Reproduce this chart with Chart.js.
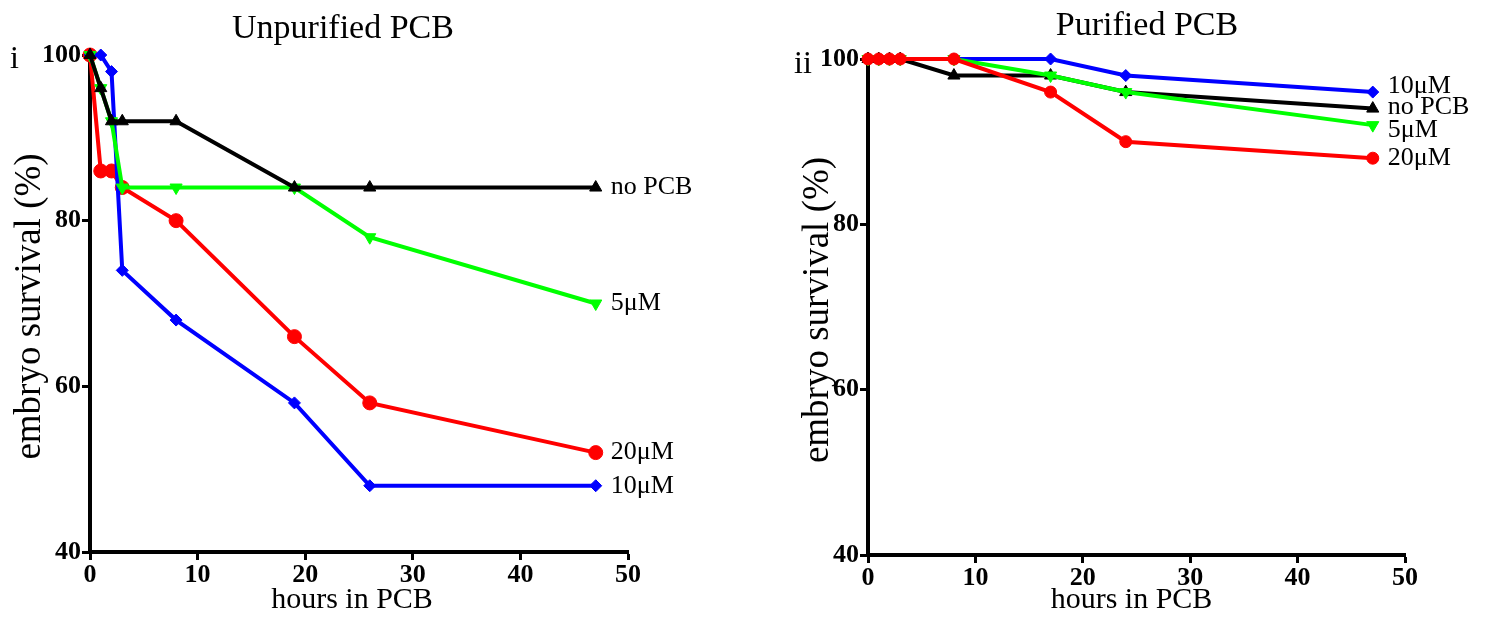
<!DOCTYPE html>
<html>
<head>
<meta charset="utf-8">
<script src="https://cdn.jsdelivr.net/npm/chart.js@4.4.1/dist/chart.umd.min.js"></script>
<style>
html,body{margin:0;padding:0;background:#fff;width:1491px;height:617px;overflow:hidden;}
.box{position:absolute;top:0;height:617px;}
</style>
</head>
<body>
<div class="box" style="left:0;width:745px;"><canvas id="c1" width="745" height="617"></canvas></div>
<div class="box" style="left:745px;width:746px;"><canvas id="c2" width="746" height="617"></canvas></div>
<script>
// ---- Panel i : Unpurified PCB ----
const hoursA = [0, 1, 2, 3, 8, 19, 26, 47];
const noPcbA = [100, 96, 92, 92, 92, 84, 84, 84];
const fiveA = [100, 96, 92, 84, 84, 84, 78, 70];
const twentyA = [100, 86, 86, 84, 80, 66, 58, 52];
const tenA = [100, 100, 98, 74, 68, 58, 48, 48];

// ---- Panel ii : Purified PCB ----
const hoursB = [0, 1, 2, 3, 8, 17, 24, 47];
const tenB = [100, 100, 100, 100, 100, 100, 98, 96];
const noPcbB = [100, 100, 100, 100, 98, 98, 96, 94];
const fiveB = [100, 100, 100, 100, 100, 98, 96, 92];
const twentyB = [100, 100, 100, 100, 100, 96, 90, 88];

const yTicks = [40, 60, 80, 100];
const xTicks = [0, 10, 20, 30, 40, 50];
const seriesNames = ["no PCB", "5μM", "20μM", "10μM"];
// label anchor values (y) at end of lines
const labelAtA = [84, 70, 52, 48];
const labelAtB = [94.2, 91.4, 88, 96.7];

const SERIF = "'Liberation Serif','DejaVu Serif',serif";

function pts(xs, ys){ return xs.map((x,i)=>({x:x, y:ys[i]})); }

function ds(label, xs, ys, color, style, rot, radius, order){
  return {label, data: pts(xs, ys), borderColor: color, backgroundColor: color,
    borderWidth: 4, pointStyle: style, rotation: rot, pointRadius: radius,
    pointBorderWidth: 1, pointBorderColor: color, pointHoverRadius: radius,
    clip: false, tension: 0, order};
}

const textPlugin = {
  id: 'texts',
  afterDraw(chart, args, opts){
    const ctx = chart.ctx;
    const xs = chart.scales.x, ys = chart.scales.y;
    ctx.save();
    ctx.fillStyle = '#000';
    // title
    ctx.font = `${opts.titleSize}px ${SERIF}`;
    ctx.textAlign = 'center'; ctx.textBaseline = 'alphabetic';
    ctx.fillText(opts.title, opts.titleX, opts.titleY);
    // panel label
    ctx.textBaseline = 'middle';
    ctx.font = `32px ${SERIF}`;
    ctx.textAlign = 'left';
    ctx.fillText(opts.panel, opts.panelX, opts.panelY);
    // x title
    ctx.font = `30px ${SERIF}`;
    ctx.textAlign = 'center';
    ctx.fillText('hours in PCB', (xs.left + xs.right)/2 + opts.xtShift, opts.xtY);
    // y title
    ctx.save();
    ctx.translate(opts.ytX, (ys.top + ys.bottom)/2 + 3);
    ctx.rotate(-Math.PI/2);
    ctx.font = `37px ${SERIF}`;
    ctx.fillText('embryo survival (%)', 0, 0);
    ctx.restore();
    // end labels
    ctx.font = `26px ${SERIF}`;
    ctx.textAlign = 'left';
    opts.labels.forEach((t, i)=>{
      ctx.fillText(t, xs.getPixelForValue(opts.endX) + 15, ys.getPixelForValue(opts.labelAt[i]));
    });
    ctx.restore();
  }
};

function makeChart(id, datasets, yw, xh, pad, textOpts){
  return new Chart(document.getElementById(id), {
    type: 'line',
    data: { datasets },
    plugins: [textPlugin],
    options: {
      responsive: false, animation: false,
      layout: { padding: pad },
      plugins: { legend: {display:false}, tooltip:{enabled:false}, texts: textOpts },
      scales: {
        x: {
          type: 'linear', min: 0, max: 50,
          afterBuildTicks: s => { s.ticks = xTicks.map(v=>({value:v})); },
          afterFit: s => { s.height = xh; },
          border: {display: true, color: '#000', width: 4},
          grid: {display: true, drawOnChartArea: false, drawTicks: true, tickLength: 8, tickWidth: 3, tickColor: '#000'},
          ticks: {color:'#000', padding: 0, maxRotation: 0, font: {family: SERIF, size: 26, weight: 'bold'}}
        },
        y: {
          type: 'linear', min: 40, max: 100,
          afterBuildTicks: s => { s.ticks = yTicks.map(v=>({value:v})); },
          afterFit: s => { s.width = yw; },
          border: {display: true, color: '#000', width: 4},
          grid: {display: true, drawOnChartArea: false, drawTicks: true, tickLength: 8, tickWidth: 3, tickColor: '#000'},
          ticks: {color:'#000', padding: 1, font: {family: SERIF, size: 26, weight: 'bold'}}
        }
      }
    }
  });
}

makeChart('c1', [
  ds(seriesNames[0], hoursA, noPcbA, '#000000', 'triangle', 0, 7, 0),
  ds(seriesNames[1], hoursA, fiveA, '#00ff00', 'triangle', 180, 7, 1),
  ds(seriesNames[3], hoursA, tenA, '#0000ff', 'rectRot', 0, 6, 2),
  ds(seriesNames[2], hoursA, twentyA, '#ff0000', 'circle', 0, 7, 3)
], 90, 65, {top: 55, right: 117, left: 0, bottom: 0}, {
  title: 'Unpurified PCB', titleX: 343, titleY: 38, titleSize: 34,
  panel: 'i', panelX: 10, panelY: 60,
  xtShift: -7, xtY: 600, ytX: 30,
  labels: seriesNames, labelAt: labelAtA, endX: 47
});

makeChart('c2', [
  ds(seriesNames[2], hoursB, twentyB, '#ff0000', 'circle', 0, 6, 0),
  ds(seriesNames[1], hoursB, fiveB, '#00ff00', 'triangle', 180, 7, 1),
  ds(seriesNames[0], hoursB, noPcbB, '#000000', 'triangle', 0, 7, 2),
  ds(seriesNames[3], hoursB, tenB, '#0000ff', 'rectRot', 0, 6, 3)
], 123, 62, {top: 59, right: 86, left: 0, bottom: 0}, {
  title: 'Purified PCB', titleX: 1147-745, titleY: 35, titleSize: 34,
  panel: 'ii', panelX: 49, panelY: 65,
  xtShift: -5, xtY: 600, ytX: 818-745,
  labels: seriesNames, labelAt: labelAtB, endX: 47
});
</script>
</body>
</html>
